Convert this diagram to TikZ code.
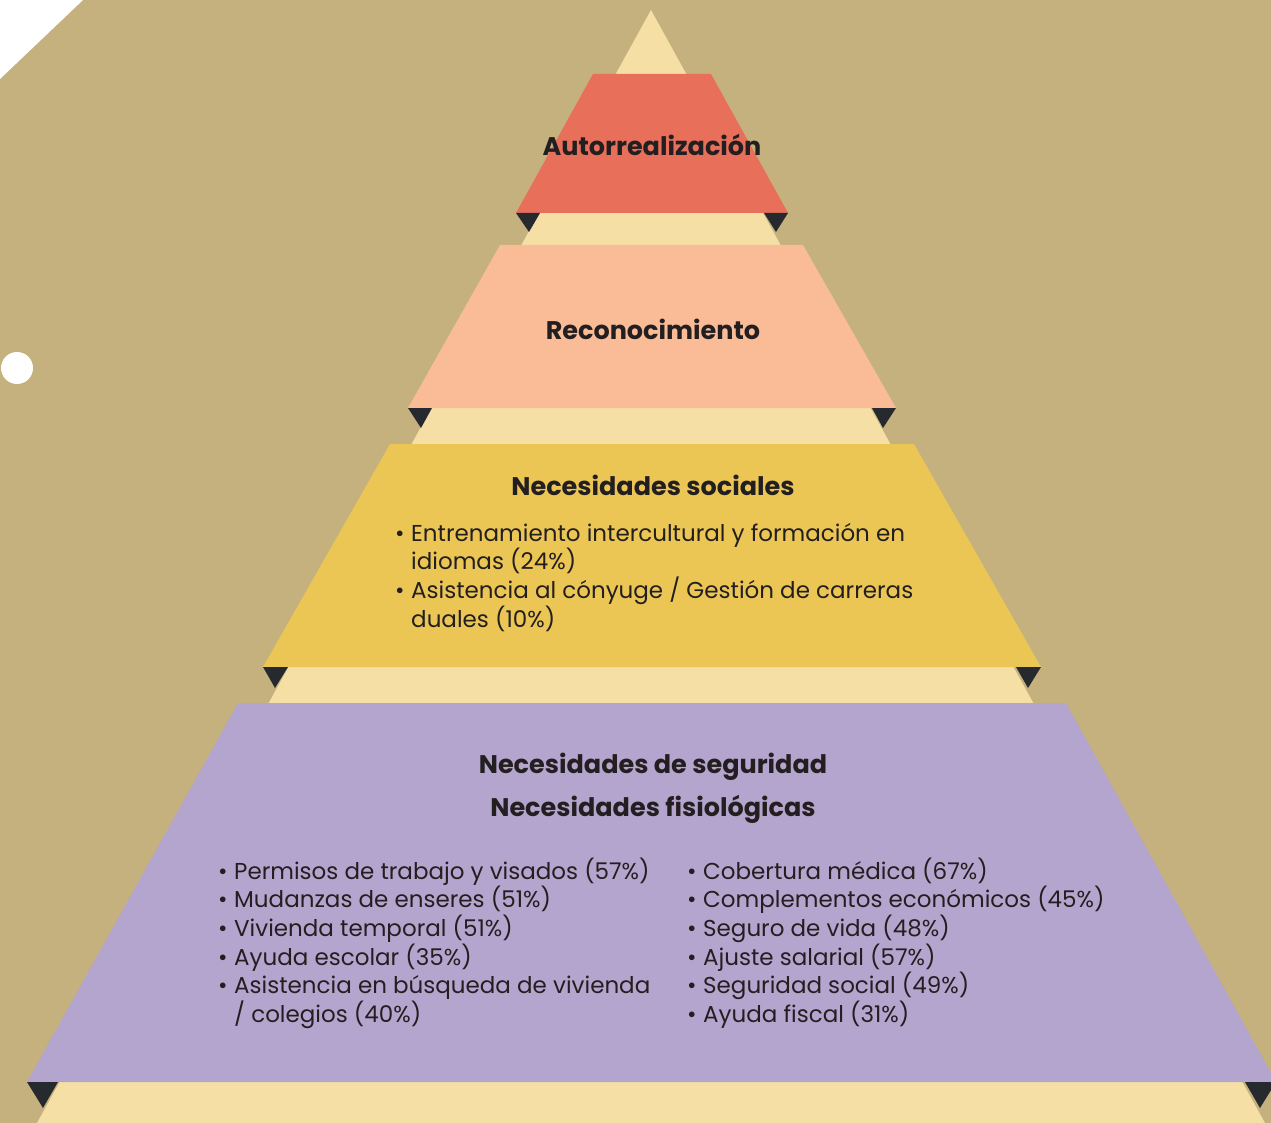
\documentclass[tikz,border=0pt]{standalone}
\usepackage{fontspec}
\setmainfont{Poppins}
\definecolor{fondo}{HTML}{C4B17E}
\definecolor{crema}{HTML}{F5DFA5}
\definecolor{rojo}{HTML}{E86F5A}
\definecolor{melocoton}{HTML}{F9BC97}
\definecolor{amarillo}{HTML}{EBC655}
\definecolor{lila}{HTML}{B4A5CE}
\definecolor{muesca}{HTML}{262A2F}
\definecolor{tinta}{HTML}{231F20}
\newcommand{\punto}{\makebox[16pt][l]{•}}
\newcommand{\fila}[1]{\smash{#1}}
\begin{document}
\begin{tikzpicture}[x=1pt,y=-1pt,
    nivel/.style={font=\bfseries\fontsize{25.5}{30}\selectfont,text=tinta,anchor=base,inner sep=0pt},
    lista/.style={font=\fontsize{23}{28.7}\selectfont,text=tinta,anchor=base west,inner sep=0pt},
    corte/.style={fill=muesca}]
      \fill[fondo] (0,0) rectangle (1271,1123);
      \useasboundingbox (0,0) rectangle (1271,1123);
      \fill[white] (0,0) -- (83,0) -- (0,79) -- cycle;
      \fill[white] (17,368) circle[radius=16];

      \fill[crema] (651,10) -- (1265,1123) -- (37,1123) -- cycle;

      \fill[rojo] (593,74) -- (711,74) -- (788,213) -- (516,213) -- cycle;
      \fill[corte] (516,213) -- (540,213) -- (529,232) -- cycle;
      \fill[corte] (764,213) -- (788,213) -- (776,232) -- cycle;

      \fill[melocoton] (500,245) -- (803,245) -- (896,408) -- (408,408) -- cycle;
      \fill[corte] (408,408) -- (432,408) -- (421,428) -- cycle;
      \fill[corte] (872,408) -- (896,408) -- (883,428) -- cycle;

      \fill[amarillo] (390,444) -- (914,444) -- (1041,667) -- (263,667) -- cycle;
      \fill[corte] (263,667) -- (288,667) -- (275,688) -- cycle;
      \fill[corte] (1016,667) -- (1041,667) -- (1028,688) -- cycle;

      \fill[lila] (238,703) -- (1066,703) -- (1276,1082) -- (27,1082) -- cycle;
      \fill[corte] (27,1082) -- (58,1082) -- (43,1108) -- cycle;
      \fill[corte] (1245,1082) -- (1276,1082) -- (1260,1108) -- cycle;

      \node[nivel] (autorrealizacion) at (652,156) {Autorrealización};
      \node[nivel] (reconocimiento) at (653,339) {Reconocimiento};
      \node[nivel] (sociales) at (653,495) {Necesidades sociales};
      \node[lista] (socialeslista) at (395,541) {\begin{tabular}[t]{@{}l@{}l@{}}
        \punto & \fila{Entrenamiento intercultural y formación en}\\
        & \fila{idiomas (24\%)}\\
        \punto & \fila{Asistencia al cónyuge / Gestión de carreras}\\
        & \fila{duales (10\%)}
      \end{tabular}};

      \node[nivel] (seguridad) at (653,773) {Necesidades de seguridad};
      \node[nivel] (fisiologicas) at (653,816) {Necesidades fisiológicas};
      \node[lista] (seguridadizq) at (218,879) {\begin{tabular}[t]{@{}l@{}l@{}}
        \punto & \fila{Permisos de trabajo y visados (57\%)}\\
        \punto & \fila{Mudanzas de enseres (51\%)}\\
        \punto & \fila{Vivienda temporal (51\%)}\\
        \punto & \fila{Ayuda escolar (35\%)}\\
        \punto & \fila{Asistencia en búsqueda de vivienda}\\
        & \fila{/ colegios (40\%)}
      \end{tabular}};
      \node[lista] (seguridadder) at (687,879) {\begin{tabular}[t]{@{}l@{}l@{}}
        \punto & \fila{Cobertura médica (67\%)}\\
        \punto & \fila{Complementos económicos (45\%)}\\
        \punto & \fila{Seguro de vida (48\%)}\\
        \punto & \fila{Ajuste salarial (57\%)}\\
        \punto & \fila{Seguridad social (49\%)}\\
        \punto & \fila{Ayuda fiscal (31\%)}
      \end{tabular}};
\end{tikzpicture}
\end{document}
